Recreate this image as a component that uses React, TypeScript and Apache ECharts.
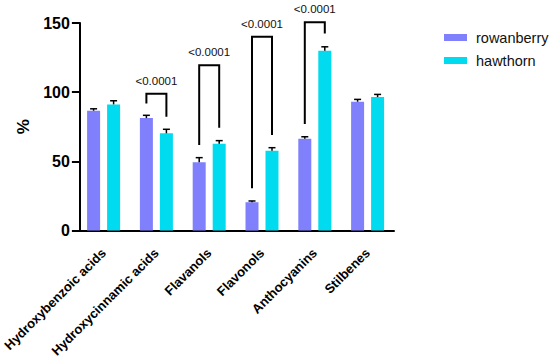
import React, { useEffect, useRef } from "react";
import * as echarts from "echarts";

const categories = [
  "Hydroxybenzoic acids",
  "Hydroxycinnamic acids",
  "Flavanols",
  "Flavonols",
  "Anthocyanins",
  "Stilbenes",
];
const rowanberry = [86.6, 81.3, 49.4, 20.5, 66.4, 93.1];
const rowanberryErr = [1.4, 2.0, 3.3, 0.9, 1.4, 1.7];
const hawthorn = [91.2, 70.3, 62.8, 57.7, 129.9, 96.5];
const hawthornErr = [2.6, 2.9, 2.2, 2.2, 2.9, 1.9];
const yTicks = [0, 50, 100, 150];

// significance brackets (category index, bracket top, left leg end, right leg end, label)
const bracketCats = [1, 2, 3, 4];
const bracketTop = [98.8, 119.5, 140, 150.6];
const bracketLeftEnd = [91.9, 61.8, 30.6, 77];
const bracketRightEnd = [82.3, 74.3, 69, 142.4];
const pLabels = ["<0.0001", "<0.0001", "<0.0001", "<0.0001"];

const FONT = "'Liberation Sans', Arial, sans-serif";
const BAR_W = 13;
const BAR_GAP = 7;
const OFF = BAR_W / 2 + BAR_GAP / 2;

export default function App() {
  const ref = useRef<HTMLDivElement>(null);
  useEffect(() => {
    document.body.style.margin = "0";
    const chart = echarts.init(ref.current!, null, { renderer: "svg" });

    const errSeries = (vals: number[], errs: number[], sign: number) => ({
      type: "custom",
      silent: true,
      z: 5,
      clip: false,
      data: vals.map((v, i) => [i, v, v + errs[i]]),
      encode: { x: 0, y: [1, 2] },
      renderItem: (params: any, api: any) => {
        const lo = api.coord([api.value(0), api.value(1)]);
        const hi = api.coord([api.value(0), api.value(2)]);
        const x = lo[0] + sign * OFF;
        return {
          type: "group",
          children: [
            {
              type: "line",
              shape: { x1: x, y1: lo[1], x2: x, y2: hi[1] },
              style: { stroke: "#000", lineWidth: 1.5 },
            },
            {
              type: "line",
              shape: { x1: x - 3.5, y1: hi[1], x2: x + 3.5, y2: hi[1] },
              style: { stroke: "#000", lineWidth: 1.5 },
            },
          ],
        };
      },
    });

    const option: any = {
      animation: false,
      textStyle: { fontFamily: FONT },
      grid: { left: 75, width: 319, top: 23, bottom: 129.3, containLabel: false },
      legend: {
        data: ["rowanberry", "hawthorn"],
        orient: "vertical",
        left: 439,
        top: 25,
        itemWidth: 23,
        itemHeight: 7,
        itemGap: 8,
        icon: "rect",
        textStyle: {
          fontFamily: FONT,
          fontSize: 14.5,
          color: "#111",
          padding: [0, 0, 0, 4],
        },
      },
      xAxis: {
        type: "category",
        data: categories,
        axisLine: { lineStyle: { color: "#000", width: 2 } },
        axisTick: {
          alignWithLabel: true,
          interval: 0,
          length: 7,
          lineStyle: { color: "#000", width: 2 },
        },
        axisLabel: {
          interval: 0,
          rotate: 45,
          margin: 20,
          color: "#000",
          fontWeight: "bold",
          fontSize: 13,
          fontFamily: FONT,
        },
      },
      yAxis: {
        type: "value",
        min: yTicks[0],
        max: yTicks[yTicks.length - 1],
        interval: 50,
        offset: -2.7,
        name: "%",
        nameLocation: "middle",
        nameGap: 43,
        nameTextStyle: {
          color: "#000",
          fontWeight: "bold",
          fontSize: 17,
          fontFamily: FONT,
        },
        splitLine: { show: false },
        axisLine: { show: true, lineStyle: { color: "#000", width: 2 } },
        axisTick: { show: true, length: 8, lineStyle: { color: "#000", width: 2 } },
        axisLabel: {
          margin: 10,
          color: "#000",
          fontWeight: "bold",
          fontSize: 16,
          fontFamily: FONT,
        },
      },
      series: [
        {
          name: "rowanberry",
          type: "bar",
          data: rowanberry,
          barWidth: BAR_W,
          barGap: (BAR_GAP / BAR_W) * 100 + "%",
          itemStyle: { color: "#8080fc" },
        },
        {
          name: "hawthorn",
          type: "bar",
          data: hawthorn,
          barWidth: BAR_W,
          itemStyle: { color: "#00dbef" },
        },
        errSeries(rowanberry, rowanberryErr, -1),
        errSeries(hawthorn, hawthornErr, 1),
        {
          type: "custom",
          silent: true,
          z: 6,
          clip: false,
          data: bracketCats.map((c, i) => [
            c,
            bracketTop[i],
            bracketLeftEnd[i],
            bracketRightEnd[i],
            i,
          ]),
          encode: { x: 0, y: [1, 2, 3] },
          renderItem: (params: any, api: any) => {
            const cat = api.value(0);
            const top = api.coord([cat, api.value(1)]);
            const yl = api.coord([cat, api.value(2)])[1];
            const yr = api.coord([cat, api.value(3)])[1];
            const idx = api.value(4);
            return {
              type: "group",
              children: [
                {
                  type: "polyline",
                  shape: {
                    points: [
                      [top[0] - OFF, yl],
                      [top[0] - OFF, top[1]],
                      [top[0] + OFF, top[1]],
                      [top[0] + OFF, yr],
                    ],
                  },
                  style: { stroke: "#000", lineWidth: 2, fill: null },
                },
                {
                  type: "text",
                  x: top[0],
                  y: top[1] - 13,
                  style: {
                    text: pLabels[idx],
                    align: "center",
                    verticalAlign: "middle",
                    fontSize: 11.5,
                    fontFamily: FONT,
                    fill: "#111",
                  },
                },
              ],
            };
          },
        },
      ],
    };
    chart.setOption(option);
    return () => chart.dispose();
  }, []);
  return <div ref={ref} style={{ width: 550, height: 360 }} />;
}
